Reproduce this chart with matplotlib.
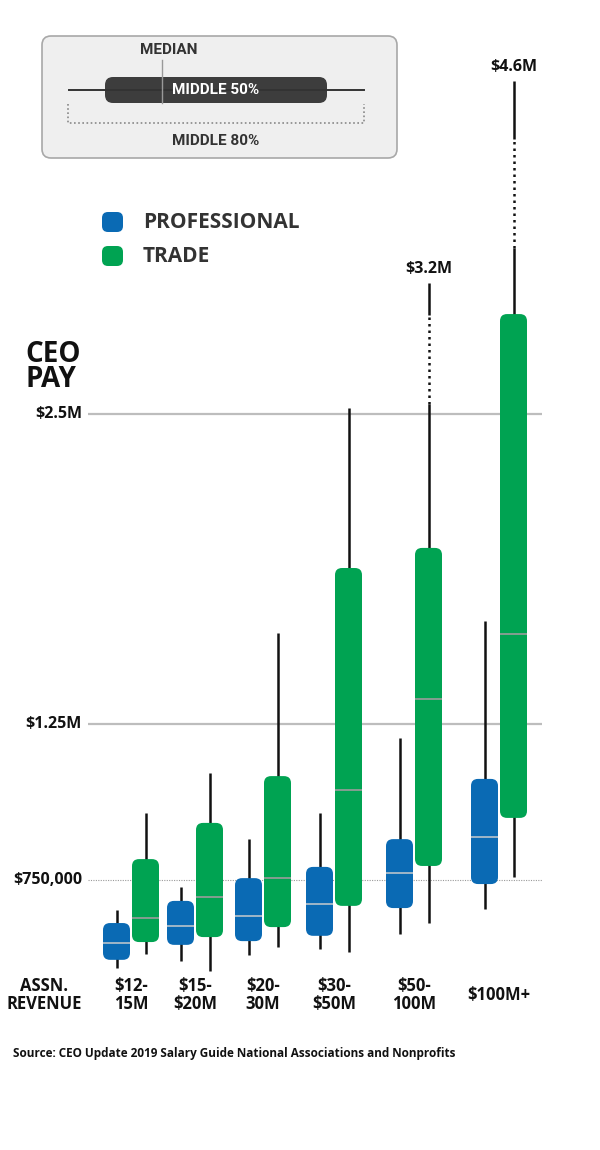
import numpy as np
import matplotlib
matplotlib.use('Agg')
import matplotlib.pyplot as plt
from matplotlib.patches import FancyBboxPatch
from matplotlib.transforms import IdentityTransform

# CEO pay in $ thousands
categories = ['$12-\n15M', '$15-\n$20M', '$20-\n30M', '$30-\n$50M', '$50-\n100M', '$100M+']

prof_low = [468, 490, 510, 529, 577, 657]
prof_q1 = [494, 542, 554, 571, 660, 737]
prof_med = [548, 603, 635, 673, 772, 888]
prof_q3 = [612, 683, 756, 792, 881, 1074]
prof_high = [654, 728, 881, 965, 1205, 1665]

trade_low = [513, 458, 535, 519, 612, 760]
trade_q1 = [551, 567, 599, 667, 795, 949]
trade_med = [628, 696, 756, 1038, 1351, 1613]
trade_q3 = [817, 933, 1083, 1879, 1960, 3034]
trade_high = [965, 1093, 1617, 2532, 3200, 4600]

# dotted (not to scale) part of the long whiskers
trade_break = [None, None, None, None, (2553, 3029), (3443, 4198)]

grid_vals = [750, 1250, 2500]
grid_labels = ['$750,000', '$1.25M', '$2.5M']

BLUE = '#0a6ab4'
GREEN = '#00a352'
MAIN = ['Open Sans', 'DejaVu Sans']
NARROW = ['Roboto', 'DejaVu Sans']

# piecewise y scale of the original graphic ($k -> pixel height)
SCALE_V = [-600, 750, 1250, 2500, 3200, 4600, 6000]
SCALE_H = [-151, 270, 426, 736, 867, 1069, 1271]


def fwd(v):
    return np.interp(v, SCALE_V, SCALE_H)


def inv(h):
    return np.interp(h, SCALE_H, SCALE_V)


group_x = [131, 195, 263, 334, 414, 499]
half = 14.5
box_w = 27

fig = plt.figure(figsize=(6, 11.5), dpi=100)
ax = fig.add_axes([0, 0, 1, 1])
ax.set_yscale('function', functions=(fwd, inv))
ax.set_xlim(0, 600)
ax.set_ylim(inv(0), inv(1150))
ax.axis('off')


def round_box(x0, x1, v0, v1, color, r=7):
    a, b = ax.transData.transform((x0, v0))
    c, d = ax.transData.transform((x1, v1))
    p = FancyBboxPatch((a, b), c - a, d - b, boxstyle=f'round,pad=0,rounding_size={r}',
                       transform=IdentityTransform(), fc=color, ec='none', zorder=3)
    ax.add_artist(p)


# gridlines
ax.hlines([1250, 2500], 88, 542, color='#bdbdbd', lw=1.6, zorder=1)
ax.hlines(750, 88, 542, color='#9a9a9a', lw=0.8, linestyles=(0, (1, 1.2)), zorder=1)
for v, lab in zip(grid_vals, grid_labels):
    ax.text(82, v, lab, ha='right', va='center', fontsize=11.5, fontweight='bold',
            family=MAIN, color='#111')

series = [
    (-half, BLUE, '#b9c3cc', prof_low, prof_q1, prof_med, prof_q3, prof_high, [None] * 6),
    (half, GREEN, '#9c9c9c', trade_low, trade_q1, trade_med, trade_q3, trade_high, trade_break),
]

for off, color, medc, lo, q1, med, q3, hi, brk in series:
    for i, gx in enumerate(group_x):
        x = gx + off
        if brk[i] is None:
            ax.vlines(x, lo[i], hi[i], color='#111', lw=1.8, zorder=2)
        else:
            b0, b1 = brk[i]
            ax.vlines(x, lo[i], b0, color='#111', lw=1.8, zorder=2)
            ax.plot([x, x], [b0, b1], color='#111', lw=1.8, ls=(0, (1, 1.6)), zorder=2)
            ax.vlines(x, b1, hi[i], color='#111', lw=1.8, zorder=2)
        round_box(x - box_w / 2, x + box_w / 2, q1[i], q3[i], color)
        ax.hlines(med[i], x - box_w / 2, x + box_w / 2, color=medc, lw=1.2, zorder=4)
        if hi[i] >= 3000:
            ax.annotate(f'${hi[i] / 1000:.1f}M', (x, hi[i]), xytext=(0, 4),
                        textcoords='offset points', ha='center', va='bottom',
                        fontsize=11.5, fontweight='bold', family=MAIN, color='#111')

# overlay in pixel units for legend and labels
ov = fig.add_axes([0, 0, 1, 1])
ov.set_xlim(0, 600)
ov.set_ylim(1150, 0)
ov.axis('off')

ov.add_patch(FancyBboxPatch((42, 36), 355, 122, boxstyle='round,pad=0,rounding_size=9',
                            fc='#efefef', ec='#a8a8a8', lw=1.2))
ov.plot([69, 364], [90, 90], color='#333', lw=1.4)
ov.add_patch(FancyBboxPatch((105, 77), 222, 26, boxstyle='round,pad=0,rounding_size=8',
                            fc='#3d3d3d', ec='none'))
ov.plot([162, 162], [60, 103], color='#999', lw=1)
ov.plot([68, 68, 364, 364], [104, 123, 123, 104], color='#888', lw=1.2, ls=(0, (1, 1.5)))
ov.text(169, 50, 'MEDIAN', ha='center', va='center', fontsize=11, fontweight='bold',
        family=NARROW, color='#333')
ov.text(216, 90, 'MIDDLE 50%', ha='center', va='center', fontsize=11, fontweight='bold',
        family=NARROW, color='white')
ov.text(216, 141, 'MIDDLE 80%', ha='center', va='center', fontsize=11, fontweight='bold',
        family=NARROW, color='#333')

for y, color, lab in [(212, BLUE, 'PROFESSIONAL'), (246, GREEN, 'TRADE')]:
    ov.add_patch(FancyBboxPatch((102, y), 21, 20, boxstyle='round,pad=0,rounding_size=6',
                                fc=color, ec='none'))
    ov.text(143, y + 10, lab, ha='left', va='center', fontsize=15, fontweight='bold',
            family=MAIN, color='#333')

ov.text(25, 340, 'CEO\nPAY', ha='left', va='top', fontsize=20, fontweight='bold',
        family=MAIN, color='#111', linespacing=0.8)

ov.text(44, 995, 'ASSN.\nREVENUE', ha='center', va='center', fontsize=12,
        fontweight='bold', family=MAIN, color='#111', linespacing=1.05)
for gx, cat in zip(group_x, categories):
    ov.text(gx, 995, cat, ha='center', va='center', fontsize=12, fontweight='bold',
            family=MAIN, color='#111', linespacing=1.05)

ov.text(13, 1054, 'Source: CEO Update 2019 Salary Guide National Associations and Nonprofits',
        ha='left', va='center', fontsize=8.5, fontweight='bold', family=MAIN, color='#111')

fig.savefig('out.png', dpi=100)
